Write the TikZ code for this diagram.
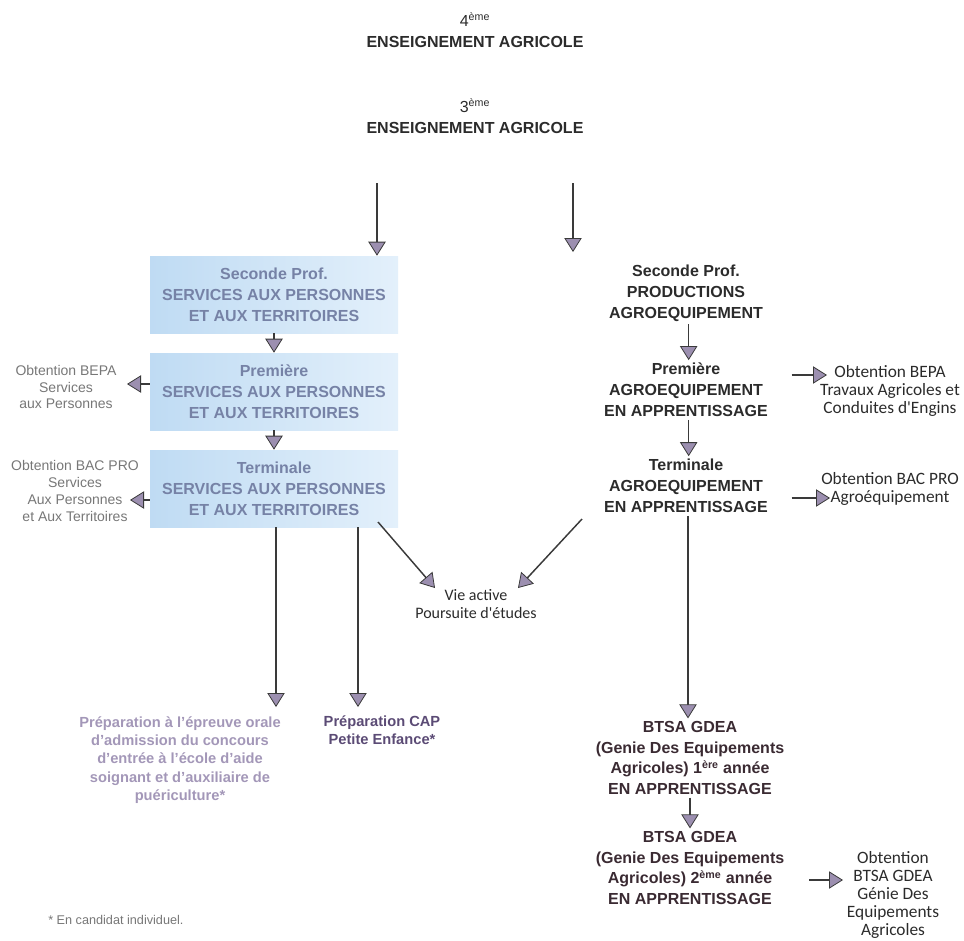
\documentclass[tikz,border=0pt]{standalone}
\usepackage{fontspec}
\setmainfont{Liberation Sans}
\newfontfamily\calfont{Carlito}
\usetikzlibrary{arrows.meta}
\definecolor{boxtext}{HTML}{7682A6}
\definecolor{boxleft}{HTML}{BFDBF3}
\definecolor{boxright}{HTML}{E3F0FB}
\definecolor{lavtext}{HTML}{A397B8}
\definecolor{captext}{HTML}{5B4B75}
\definecolor{maintext}{HTML}{2B2B2B}
\definecolor{btsatext}{HTML}{3A2A32}
\definecolor{headfill}{HTML}{9C8FB0}
\definecolor{linecol}{HTML}{3A3A3A}
\definecolor{greytext}{HTML}{777777}
\tikzset{
  arr/.style={draw=linecol, line width=1.1pt, -{Triangle[width=13pt,length=10.5pt,fill=headfill,line width=0.6pt]}},
  lbox/.style={rectangle, minimum width=186pt, minimum height=57.75pt, left color=boxleft, right color=boxright, draw=none,
    text=boxtext, font=\bfseries\fontsize{12}{15.75}\selectfont, align=center},
  rtext/.style={text=maintext, font=\bfseries\fontsize{12}{15.75}\selectfont, align=center, inner sep=2pt},
  btext/.style={text=btsatext, font=\bfseries\fontsize{12}{15.5}\selectfont, align=center, inner sep=2pt},
  routtext/.style={text=maintext, font=\calfont\fontsize{13}{13.5}\selectfont, align=center, inner sep=1pt},
  louttext/.style={text=greytext, font=\fontsize{10.5}{12.7}\selectfont, align=center, inner sep=1pt},
  head/.style={text=maintext, font=\bfseries\fontsize{12}{15.5}\selectfont, align=center},
}
\begin{document}
\begin{tikzpicture}[x=0.75pt,y=-0.75pt]
\useasboundingbox (0,0) rectangle (964,940);
% titles
\node[head] (t4) at (475,30) {{\mdseries\fontsize{12}{12}\selectfont 4\textsuperscript{ème}}\\ENSEIGNEMENT AGRICOLE};
\node[head] (t3) at (475,116) {{\mdseries\fontsize{12}{12}\selectfont 3\textsuperscript{ème}}\\ENSEIGNEMENT AGRICOLE};
% left column boxes
\node[lbox] (b1) at (274,294.5) {Seconde Prof.\\SERVICES AUX PERSONNES\\ET AUX TERRITOIRES};
\node[lbox] (b2) at (274,391.5) {Première\\SERVICES AUX PERSONNES\\ET AUX TERRITOIRES};
\node[lbox] (b3) at (274,488.5) {Terminale\\SERVICES AUX PERSONNES\\ET AUX TERRITOIRES};
% right column
\node[rtext] (r1) at (686,293) {Seconde Prof.\\PRODUCTIONS\\AGROEQUIPEMENT};
\node[rtext] (r2) at (686,390) {Première\\AGROEQUIPEMENT\\EN APPRENTISSAGE};
\node[rtext] (r3) at (686,486) {Terminale\\AGROEQUIPEMENT\\EN APPRENTISSAGE};
\node[btext] (s1) at (690,758) {BTSA GDEA\\(Genie Des Equipements\\Agricoles) 1\textsuperscript{ère} année\\EN APPRENTISSAGE};
\node[btext] (s2) at (690,868) {BTSA GDEA\\(Genie Des Equipements\\Agricoles) 2\textsuperscript{ème} année\\EN APPRENTISSAGE};
% outputs
\node[louttext] (o1) at (66,387) {Obtention BEPA\\Services\\aux Personnes};
\node[louttext] (o2) at (75,491) {Obtention BAC PRO\\Services\\Aux Personnes\\et Aux Territoires};
\node[routtext] (o3) at (890,391) {Obtention BEPA\\Travaux Agricoles et\\Conduites d'Engins};
\node[routtext] (o4) at (890,489) {Obtention BAC PRO\\Agroéquipement};
\node[routtext] (o5) at (893,895) {Obtention\\BTSA GDEA\\Génie Des\\Equipements\\Agricoles};
\node[text=maintext, font=\calfont\fontsize{12}{13.5}\selectfont, align=center] (va) at (476,604) {Vie active\\Poursuite d'études};
\node[text=lavtext, font=\bfseries\fontsize{11}{13.8}\selectfont, align=center] (p1) at (180,760) {Préparation à l'épreuve orale\\d'admission du concours\\d'entrée à l'école d'aide\\soignant et d'auxiliaire de\\puériculture*};
\node[text=captext, font=\bfseries\fontsize{11}{13.8}\selectfont, align=center] (p2) at (382,730) {Préparation CAP\\Petite Enfance*};
\node[text=greytext, font=\fontsize{9.5}{10}\selectfont, anchor=west, inner sep=0pt] (fn) at (48,920) {* En candidat individuel.};
% coordinates
\coordinate (a1) at (377,183);
\coordinate (a2) at (573,183);
\coordinate (a2e) at (573,252);
\coordinate (lb1) at (127,384);
\coordinate (lb2) at (130,500);
\coordinate (rb1) at (827,375);
\coordinate (rb2) at (830,498);
\coordinate (rb3) at (843,880);
\coordinate (vl) at (435,588);
\coordinate (vr) at (518,588);
\coordinate (vls) at (378,522);
\coordinate (vrs) at (582,519);
\coordinate (pl) at (276,707);
\coordinate (pc) at (358,707);
% arrows
\draw[arr] (a1) -- (b1.north -| a1);
\draw[arr] (a2) -- (a2e);
\draw[arr] (b1.south) -- (b2.north);
\draw[arr] (b2.south) -- (b3.north);
\draw[arr] (b2.west |- lb1) -- (lb1);
\draw[arr] (b3.west |- lb2) -- (lb2);
\draw[arr] ([xshift=2pt]r1.south) -- ([xshift=2pt]r2.north);
\draw[arr] ([xshift=2pt]r2.south) -- ([xshift=2pt]r3.north);
\draw[arr] (o3.west |- 0,375) ++(-27,0) -- (rb1);
\draw[arr] (o4.west |- 0,498) ++(-28,0) -- (rb2);
\draw[arr] (o5.west |- 0,880) ++(-36,0) -- (rb3);
\draw[arr] ([xshift=1.5pt]r3.south) -- (s1.north -| 688,0);
\draw[arr] (s1.south) -- (s2.north);
\draw[arr] (vls) -- (vl);
\draw[arr] (vrs) -- (vr);
\draw[arr] (b3.south -| pl) -- (pl);
\draw[arr] (b3.south -| pc) -- (pc);
\end{tikzpicture}
\end{document}
